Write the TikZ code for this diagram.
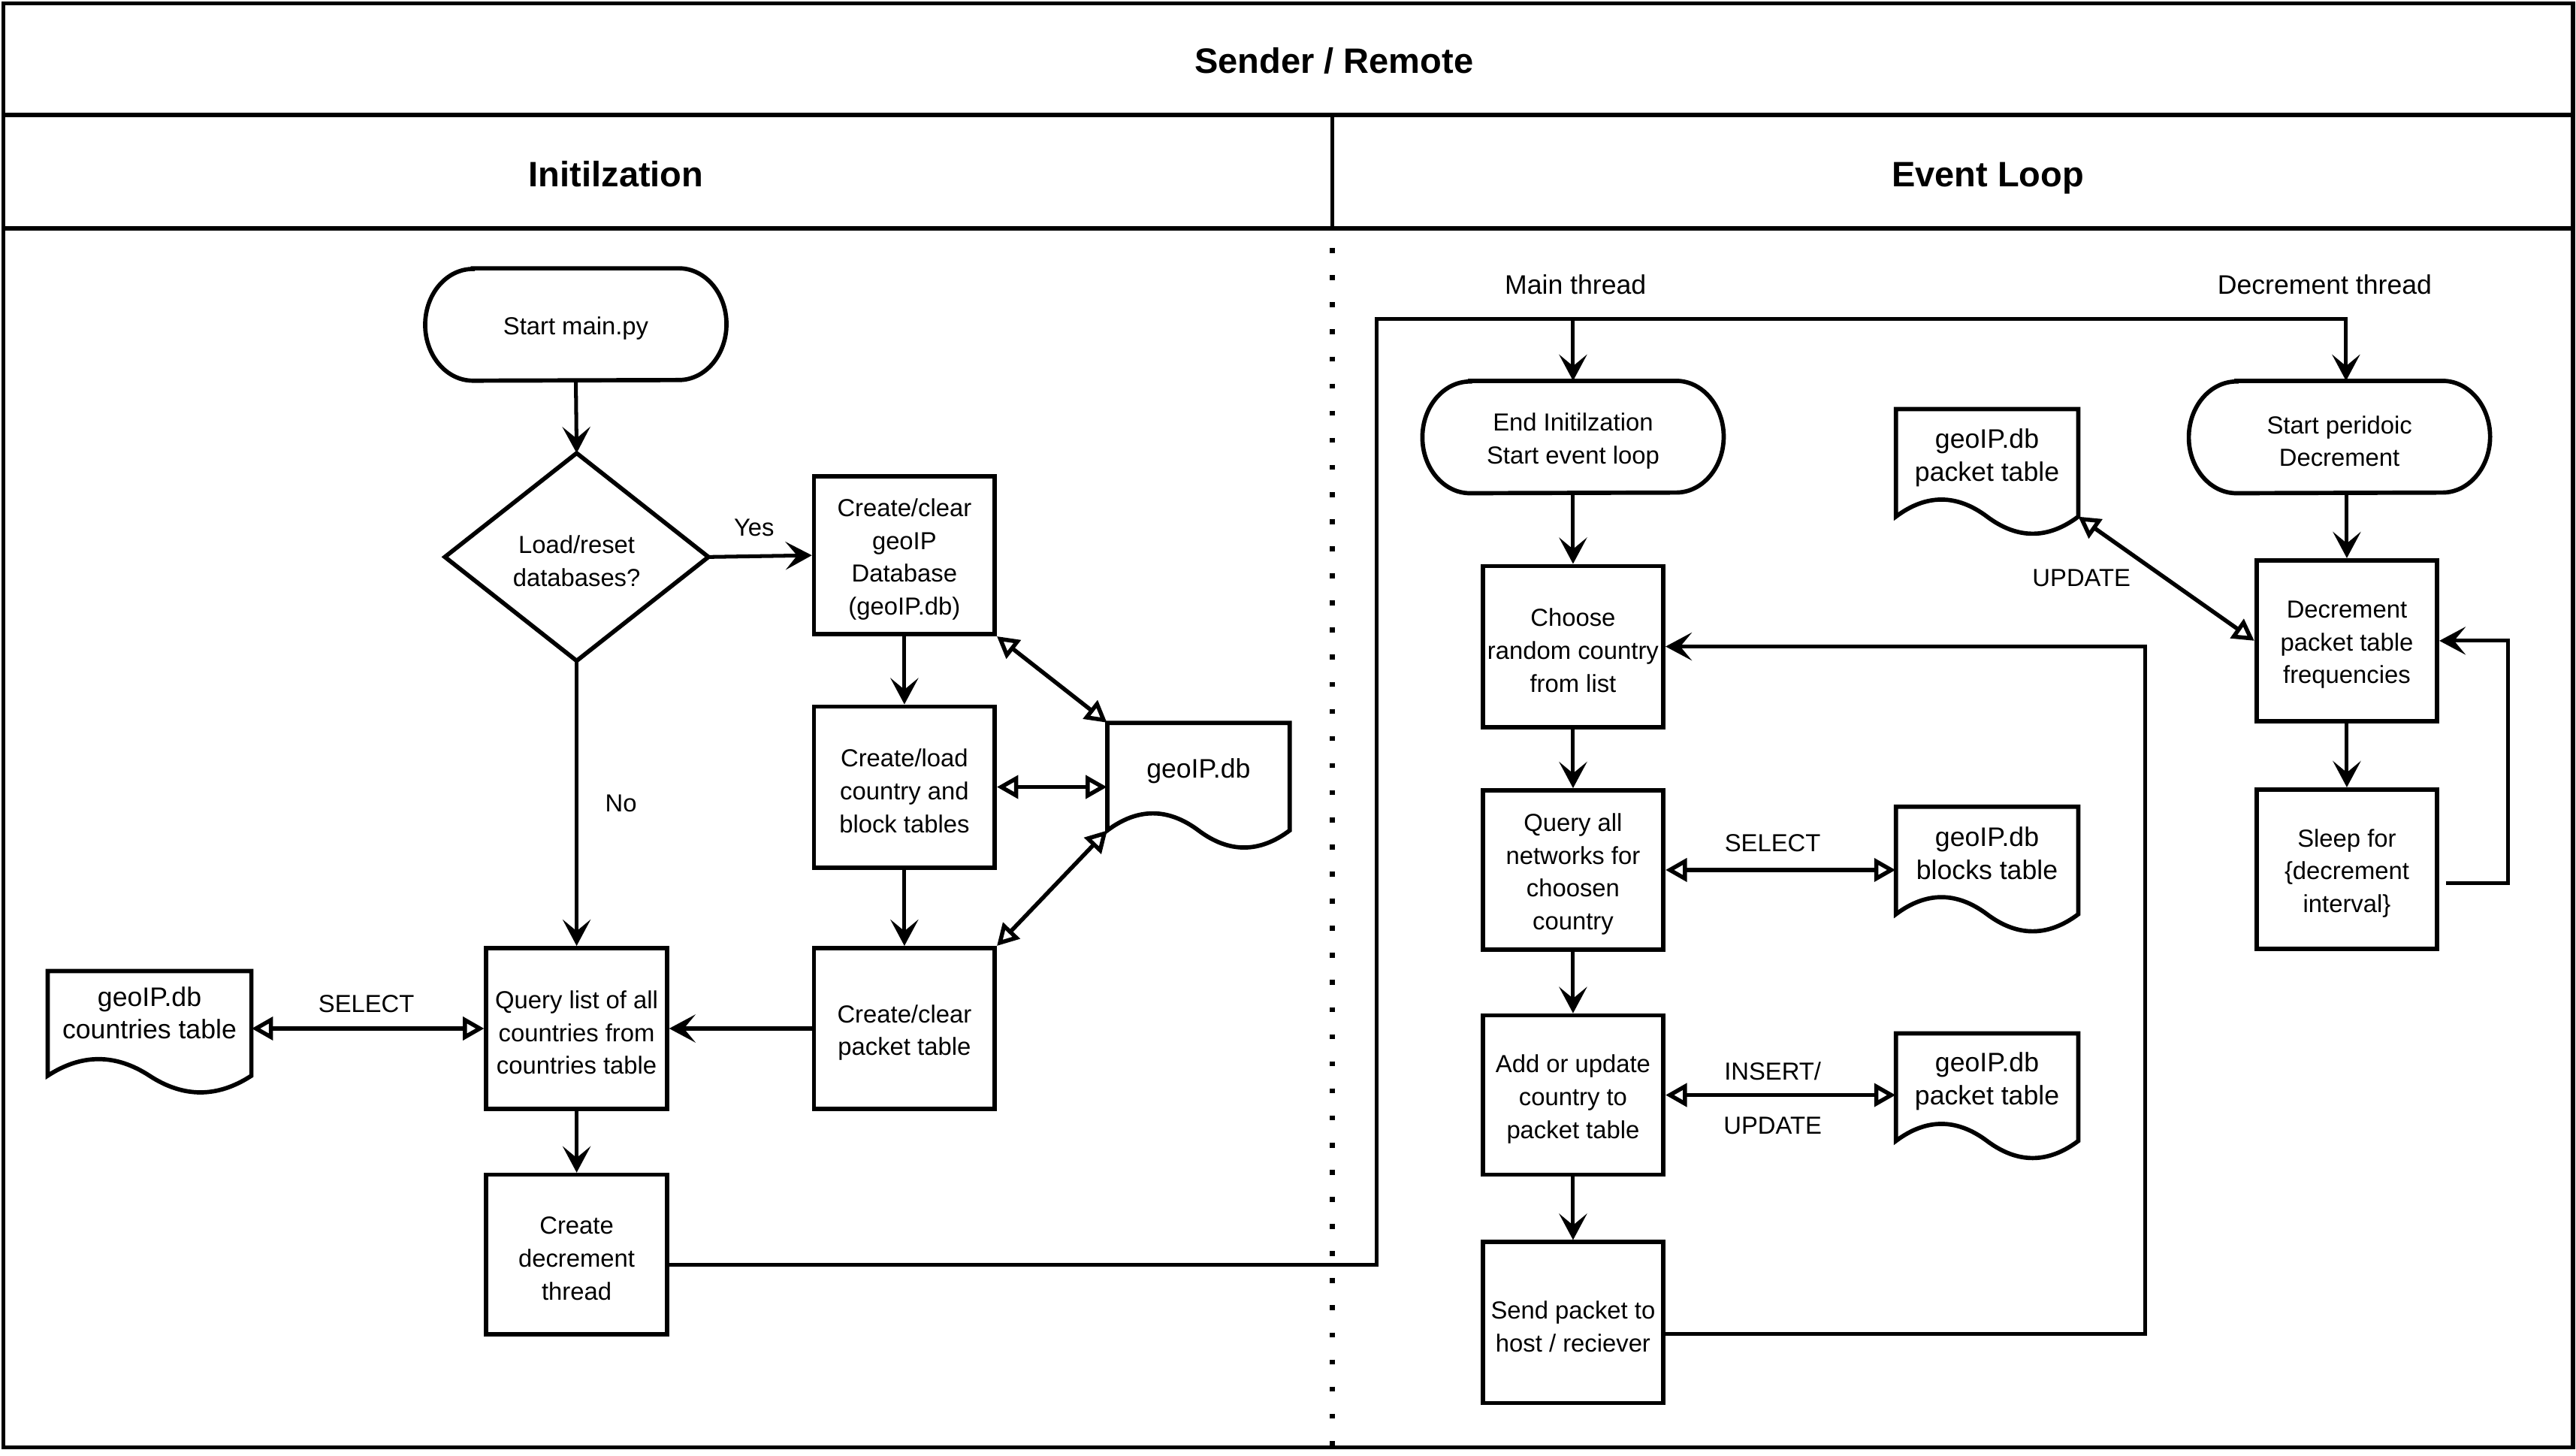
\documentclass[tikz,border=0pt]{standalone}
\usepackage{fontspec}
\setmainfont{Liberation Sans}
\usetikzlibrary{arrows.meta,calc}
\newcommand\fntbox{\fontsize{15}{20}\selectfont}
\newcommand\fntdoc{\fontsize{16.3}{20}\selectfont}
\newcommand\fntlab{\fontsize{15}{18}\selectfont}
\newcommand\fntthr{\fontsize{16.3}{19}\selectfont}
\newcommand\fnthead{\fontsize{21.5}{26}\selectfont\bfseries}
% box: name, position, text
\newcommand\boxnode[4][]{%
  \node[box,#1] (#2) at #3 {};
  \node[txt] (#2-t) at ([yshift=-2.5pt]#2.center) {#4};}
% terminator: name, position, text
\newcommand\termnode[3]{%
  \node[ghost, minimum width=183pt, minimum height=68pt] (#1) at #2 {};
  \node[txt] (#1-t) at ([yshift=-2.5pt]#1.center) {#3};
  \draw[shapeline] ([xshift=29pt]#1.north west) -- ([xshift=-29pt]#1.north east)
    arc[start angle=90,end angle=-90,x radius=29pt,y radius=34pt]
    -- ([xshift=29pt]#1.south west)
    arc[start angle=270,end angle=90,x radius=29pt,y radius=34pt] -- cycle;}
% document: name, x0, y0, w, h, text offset, text
\newcommand\docshape[7]{%
  \node[ghost, minimum width=#4pt, minimum height=#5pt] (#1) at ({#2+#4/2},{#3+#5/2}) {};
  \node[doctext] (#1-t) at ({#2+#4/2},{#3+#6}) {#7};
  \draw[shapeline] (#2,#3) -- ({#2+#4},#3) -- ({#2+#4},{#3+0.85*#5})
    .. controls ({#2+5*#4/6},{#3+1.03*#5}) and ({#2+2*#4/3},{#3+1.03*#5}) .. ({#2+#4/2},{#3+0.85*#5})
    .. controls ({#2+#4/3},{#3+0.67*#5}) and ({#2+#4/6},{#3+0.67*#5}) .. (#2,{#3+0.85*#5}) -- cycle;
  \coordinate (#1-le) at (#2,{#3+0.85*#5});
  \coordinate (#1-re) at ({#2+#4},{#3+0.85*#5});}
\begin{document}
\begin{tikzpicture}[x=1pt,y=-1pt,
  shapeline/.style={line width=2.6pt},
  box/.style={draw,line width=2.6pt,minimum width=110pt,minimum height=97pt,inner sep=0pt},
  ghost/.style={inner sep=0pt},
  txt/.style={inner sep=0pt,align=center,font=\fntbox},
  doctext/.style={inner sep=0pt,align=center,font=\fntdoc},
  lab/.style={inner sep=0pt,font=\fntlab},
  thr/.style={inner sep=0pt,font=\fntthr},
  head/.style={inner sep=0pt,font=\fnthead,anchor=base},
  flow/.style={line width=2.3pt,-{Stealth[length=16pt,width=17pt,inset=7pt]}},
  dbl/.style={line width=2.5pt,{Triangle[open,length=13pt,width=14pt]}-{Triangle[open,length=13pt,width=14pt]}},
  frameline/.style={line width=2.6pt}]
\fill[white] (0,0) rectangle (1568,886);
\useasboundingbox (0,0) rectangle (1568,886);
% frame
\draw[frameline] (2,2) rectangle (1566,881);
\draw[frameline] (2,70) -- (1566,70);
\draw[frameline] (2,139) -- (1566,139);
\draw[line width=2pt] (811,70) -- (811,139);
\draw[line width=3pt, dash pattern=on 3pt off 13.5pt, dash phase=4.5pt] (811,139) -- (811,881);
\node[head] (hsender) at (812,44.7) {Sender / Remote};
\node[head] (hinit) at (375,113.7) {Initilzation};
\node[head] (hevent) at (1210,113.7) {Event Loop};
% initialization
\termnode{start}{(350.5,197.5)}{Start main.py}
\node[ghost, minimum width=160pt, minimum height=126pt] (dia) at (351,339) {};
\node[txt] (dia-t) at ([yshift=-2.5pt]dia.center) {Load/reset\\databases?};
\draw[shapeline] (dia.north) -- (dia.east) -- (dia.south) -- (dia.west) -- cycle;
\boxnode[minimum height=96pt]{cg}{(550.5,338)}{Create/clear\\geoIP\\Database\\(geoIP.db)}
\boxnode[minimum height=98pt]{cl}{(550.5,479)}{Create/load\\country and\\block tables}
\boxnode[minimum height=98pt]{cp}{(550.5,626)}{Create/clear\\packet table}
\boxnode[minimum height=98pt]{ql}{(351,626)}{Query list of all\\countries from\\countries table}
\boxnode{cdt}{(351,763.5)}{Create\\decrement\\thread}
\docshape{geo}{674}{440}{111}{77}{29.5}{geoIP.db}
\docshape{ctab}{29}{591}{124}{75}{25.5}{geoIP.db\\countries table}
\draw[flow] (start.south) -- (dia.north);
\draw[flow] (dia.east) -- (cg.west);
\node[lab] (yes) at (459,321) {Yes};
\draw[flow] (dia.south) -- (ql.north);
\node[lab] (no) at (378,489) {No};
\draw[flow] (cg.south) -- (cl.north);
\draw[flow] (cl.south) -- (cp.north);
\draw[flow] (cp.west) -- (ql.east);
\draw[flow] (ql.south) -- (cdt.north);
\draw[dbl] (ctab.east |- ql.west) -- (ql.west);
\node[lab] (sel1) at (223,611) {SELECT};
\draw[dbl] (cg.south east) -- (geo.north west);
\draw[dbl] (cl.east) -- (geo.west |- cl.east);
\draw[dbl] (geo-le) -- (cp.north east);
% event loop
\node[thr] (mainthr) at (959,173) {Main thread};
\node[thr] (decthr) at (1415,173) {Decrement thread};
\termnode{endinit}{(957.5,266)}{End Initilzation\\Start event loop}
\termnode{startdec}{(1424,266)}{Start peridoic\\Decrement}
\boxnode[minimum height=98pt]{choose}{(957.5,393.5)}{Choose\\random country\\from list}
\boxnode{qa}{(957.5,529.5)}{Query all\\networks for\\choosen\\country}
\boxnode{add}{(957.5,666.5)}{Add or update\\country to\\packet table}
\boxnode[minimum height=98pt]{send}{(957.5,805)}{Send packet to\\host / reciever}
\docshape{blk}{1154}{491}{111}{77}{28.5}{geoIP.db\\blocks table}
\docshape{pktwo}{1154}{629}{111}{77}{29}{geoIP.db\\packet table}
\docshape{pkone}{1154}{249}{111}{77}{29.5}{geoIP.db\\packet table}
\boxnode[minimum height=98pt]{dec}{(1428.5,390)}{Decrement\\packet table\\frequencies}
\boxnode{sleep}{(1428.5,529)}{Sleep for\\\{decrement\\interval\}}
\coordinate (jone) at (838,194);
\coordinate (jtwo) at (1428,194);
\draw[flow] ([yshift=-6.5pt]cdt.east) -| (jone) -- (jtwo) -- (jtwo |- startdec.north);
\draw[flow] (endinit.north |- jone) -- (endinit.north);
\draw[flow] (endinit.south) -- (choose.north);
\draw[flow] (choose.south) -- (qa.north);
\draw[flow] (qa.south) -- (add.north);
\draw[flow] (add.south) -- (send.north);
\draw[flow] ([yshift=-7pt]send.east) -- ++(292,0) |- (choose.east);
\draw[dbl] (qa.east) -- (blk.west |- qa.east);
\node[lab] (seltwo) at (1079,513) {SELECT};
\draw[dbl] (add.east) -- (pktwo.west |- add.east);
\node[lab] (ins) at (1079,652) {INSERT/};
\node[lab] (updone) at (1079,685) {UPDATE};
\draw[flow] (dec.north |- startdec.south) -- (dec.north);
\draw[flow] (dec.south) -- (sleep.north);
\draw[flow] ([xshift=4pt,yshift=-8.5pt]sleep.east) -| ([xshift=42pt]dec.east) -- (dec.east);
\draw[dbl] (pkone-re) -- (dec.west);
\node[lab] (updtwo) at (1267,352) {UPDATE};
\end{tikzpicture}
\end{document}
